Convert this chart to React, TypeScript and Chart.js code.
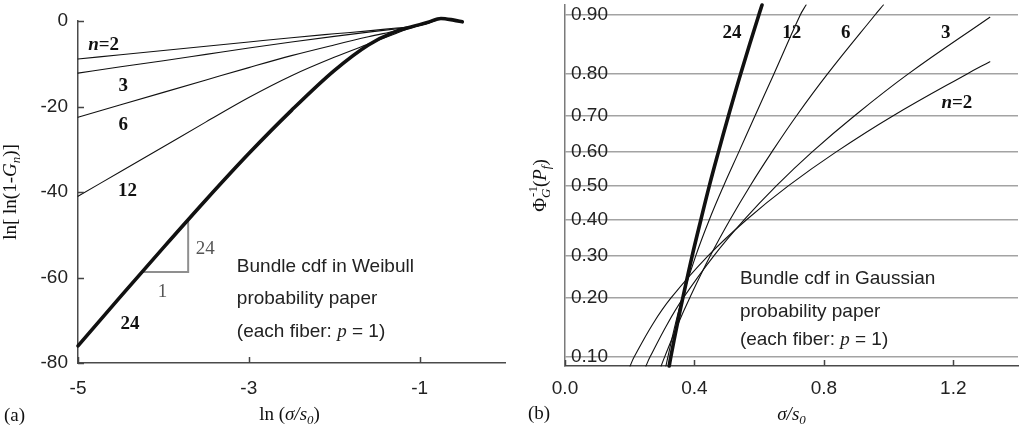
import React, { useEffect, useRef } from 'react';
import { Chart, registerables, LinearScale } from 'chart.js';

// ---------------- data: panel (a) Weibull probability paper ----------------
const A_X = [-5, -4.5, -4, -3.5, -3, -2.5, -2, -1.6, -1.3, -1.1, -0.9, -0.75, -0.6, -0.5];
const A_N2 = [-8.9, -7.9, -6.9, -5.9, -4.9, -3.9, -3.0, -2.3, -1.7, -1.3, -0.5, 0.4, 0.1, -0.3];
const A_N3 = [-12.2, -10.7, -9.3, -7.8, -6.3, -4.9, -3.6, -2.6, -1.9, -1.4, -0.5, 0.7, 0.2, -0.3];
const A_N6 = [-22.5, -19.6, -16.7, -13.8, -10.9, -8.1, -5.6, -3.7, -2.4, -1.5, -0.4, 0.5, 0.3, -0.1];
const A_N12 = [-41.0, -35.2, -29.4, -23.6, -17.9, -12.8, -8.5, -5.4, -3.1, -1.6, -0.4, 0.6, 0.2, -0.2];
const A_N24 = [-76.0, -64.4, -53.0, -41.8, -31.0, -20.9, -11.6, -5.6, -2.6, -1.4, -0.3, 0.6, 0.2, -0.2];
const A_SLOPE_X = [-4.25, -3.71, -3.71];
const A_SLOPE_Y = [-58.7, -58.7, -46.5];
const A_X_TICKS = [-5, -3, -1];
const A_Y_TICKS = [-80, -60, -40, -20, 0];

// ---------------- data: panel (b) Gaussian probability paper ----------------
const B_P2 = [0.0885, 0.10, 0.15, 0.20, 0.30, 0.40, 0.50, 0.60, 0.70, 0.80, 0.824];
const B_S2 = [0.201, 0.214, 0.271, 0.327, 0.442, 0.561, 0.690, 0.837, 1.013, 1.244, 1.313];
const B_P3 = [0.0885, 0.10, 0.15, 0.20, 0.30, 0.40, 0.50, 0.60, 0.70, 0.80, 0.897];
const B_S3 = [0.250, 0.263, 0.316, 0.365, 0.460, 0.554, 0.653, 0.763, 0.894, 1.062, 1.313];
const B_P6 = [0.0885, 0.10, 0.15, 0.20, 0.30, 0.40, 0.50, 0.60, 0.70, 0.80, 0.90, 0.9125];
const B_S6 = [0.297, 0.308, 0.349, 0.385, 0.449, 0.510, 0.572, 0.639, 0.715, 0.812, 0.958, 0.984];
const B_P12 = [0.0885, 0.10, 0.15, 0.20, 0.30, 0.40, 0.50, 0.60, 0.70, 0.80, 0.90, 0.9125];
const B_S12 = [0.312, 0.318, 0.341, 0.362, 0.404, 0.446, 0.490, 0.537, 0.587, 0.646, 0.727, 0.745];
const B_P24 = [0.0885, 0.10, 0.15, 0.20, 0.30, 0.40, 0.50, 0.60, 0.70, 0.80, 0.90, 0.9125];
const B_S24 = [0.322, 0.327, 0.347, 0.364, 0.393, 0.420, 0.446, 0.474, 0.505, 0.543, 0.599, 0.609];
const B_X_TICKS = [0, 0.4, 0.8, 1.2];
const B_P_TICKS = [0.1, 0.2, 0.3, 0.4, 0.5, 0.6, 0.7, 0.8, 0.9];

// ---------------- fonts / styles ----------------
const SANS = '"Liberation Sans", Arial, Helvetica, sans-serif';
const SERIF = '"Liberation Serif", "Times New Roman", Times, serif';
const FS = 19;

// ---------------- probit (inverse normal) scale ----------------
function probit(p: number): number {
  const a = [-3.969683028665376e1, 2.209460984245205e2, -2.759285104469687e2, 1.38357751867269e2, -3.066479806614716e1, 2.506628277459239];
  const b = [-5.447609879822406e1, 1.615858368580409e2, -1.556989798598866e2, 6.680131188771972e1, -1.328068155288572e1];
  const c = [-7.784894002430293e-3, -3.223964580411365e-1, -2.400758277161838, -2.549732539343734, 4.374664141464968, 2.938163982698783];
  const d = [7.784695709041462e-3, 3.224671290700398e-1, 2.445134137142996, 3.754408661907416];
  const pl = 0.02425;
  if (p < pl) {
    const q = Math.sqrt(-2 * Math.log(p));
    return (((((c[0] * q + c[1]) * q + c[2]) * q + c[3]) * q + c[4]) * q + c[5]) / ((((d[0] * q + d[1]) * q + d[2]) * q + d[3]) * q + 1);
  }
  if (p <= 1 - pl) {
    const q = p - 0.5, r = q * q;
    return ((((((a[0] * r + a[1]) * r + a[2]) * r + a[3]) * r + a[4]) * r + a[5]) * q) / (((((b[0] * r + b[1]) * r + b[2]) * r + b[3]) * r + b[4]) * r + 1);
  }
  const q = Math.sqrt(-2 * Math.log(1 - p));
  return -(((((c[0] * q + c[1]) * q + c[2]) * q + c[3]) * q + c[4]) * q + c[5]) / ((((d[0] * q + d[1]) * q + d[2]) * q + d[3]) * q + 1);
}
function normCdf(z: number): number {
  const t = 1 / (1 + 0.2316419 * Math.abs(z));
  const dd = 0.3989423 * Math.exp(-z * z / 2);
  const p = dd * t * (0.3193815 + t * (-0.3565638 + t * (1.781478 + t * (-1.821256 + t * 1.330274))));
  return z > 0 ? 1 - p : p;
}

class ProbitScale extends LinearScale {
  static id = 'probit';
  static defaults = {};
  getPixelForValue(value: any) {
    if (value === null || value === undefined || isNaN(value)) return NaN;
    const lo = probit((this as any).min), hi = probit((this as any).max);
    return (this as any).getPixelForDecimal((probit(value) - lo) / (hi - lo));
  }
  getValueForPixel(pixel: number) {
    const lo = probit((this as any).min), hi = probit((this as any).max);
    return normCdf(lo + (this as any).getDecimalForPixel(pixel) * (hi - lo));
  }
}

Chart.register(...registerables, ProbitScale as any);

// ---------------- rich text helper ----------------
type Seg = { t: string; i?: boolean; b?: boolean; sub?: boolean; sup?: boolean; fam?: string; supOver?: string };
function drawRich(ctx: CanvasRenderingContext2D, segs: Seg[], x: number, y: number,
  o: { size?: number; family: string; color?: string; align?: 'left' | 'center'; rotate?: boolean }) {
  const size = o.size || FS;
  const small = Math.round(size * 0.68);
  const fontFor = (s: Seg) => `${s.i ? 'italic ' : ''}${s.b ? 'bold ' : ''}${s.sub || s.sup ? small : size}px ${s.fam || o.family}`;
  ctx.save();
  ctx.translate(x, y);
  if (o.rotate) ctx.rotate(-Math.PI / 2);
  const widths = segs.map((s) => {
    ctx.font = fontFor(s);
    let w = ctx.measureText(s.t).width;
    if (s.supOver) { ctx.font = `${small}px ${o.family}`; w = Math.max(w, ctx.measureText(s.supOver).width); }
    return w;
  });
  const total = widths.reduce((m, w) => m + w, 0);
  let cx = o.align === 'center' ? -total / 2 : 0;
  ctx.textBaseline = 'middle';
  ctx.textAlign = 'left';
  ctx.fillStyle = o.color || '#111';
  segs.forEach((s, k) => {
    ctx.font = fontFor(s);
    const dy = s.sub ? size * 0.3 : s.sup ? -size * 0.38 : 0;
    ctx.fillText(s.t, cx, dy);
    if (s.supOver) { ctx.font = `${small}px ${o.family}`; ctx.fillText(s.supOver, cx + 1, -size * 0.4); }
    cx += widths[k];
  });
  ctx.restore();
}

function inwardTicks(ctx: CanvasRenderingContext2D, ca: any, xs: any, ys: any, xt: number[], yt: number[]) {
  ctx.save();
  ctx.strokeStyle = '#444';
  ctx.lineWidth = 1.5;
  ctx.beginPath();
  xt.forEach((v) => { const p = Math.round(xs.getPixelForValue(v)) + 0.5; ctx.moveTo(p, ca.bottom); ctx.lineTo(p, ca.bottom - 6); });
  yt.forEach((v) => { const p = Math.round(ys.getPixelForValue(v)) + 0.5; ctx.moveTo(ca.left, p); ctx.lineTo(ca.left + 6, p); });
  ctx.stroke();
  ctx.restore();
}

// label anchors (data coordinates)
const A_LABELS: { x: number; y: number; segs: Seg[] }[] = [
  { x: -4.70, y: -5.6, segs: [{ t: 'n', i: true, b: true }, { t: '=2', b: true }] },
  { x: -4.47, y: -15.2, segs: [{ t: '3', b: true }] },
  { x: -4.47, y: -24.3, segs: [{ t: '6', b: true }] },
  { x: -4.42, y: -39.8, segs: [{ t: '12', b: true }] },
  { x: -4.39, y: -70.9, segs: [{ t: '24', b: true }] },
];
const B_LABELS: { x: number; y: number; segs: Seg[] }[] = [
  { x: 0.516, y: 0.874, segs: [{ t: '24', b: true }] },
  { x: 0.701, y: 0.874, segs: [{ t: '12', b: true }] },
  { x: 0.868, y: 0.874, segs: [{ t: '6', b: true }] },
  { x: 1.177, y: 0.874, segs: [{ t: '3', b: true }] },
  { x: 1.211, y: 0.733, segs: [{ t: 'n', i: true, b: true }, { t: '=2', b: true }] },
];

function lineDs(xs: number[], ys: number[], width: number, color = '#111', smooth: 'monotone' | 'bezier' = 'monotone') {
  return {
    data: xs.map((x, i) => ({ x, y: ys[i] })),
    showLine: true,
    borderColor: color,
    backgroundColor: color,
    borderWidth: width,
    pointRadius: 0,
    cubicInterpolationMode: smooth === 'monotone' ? 'monotone' : 'default',
    tension: smooth === 'monotone' ? 0 : 0.4,
    borderCapStyle: 'round' as const,
    clip: false as any,
  };
}

function tickFont() { return { family: SANS, size: FS }; }
function noPad(s: any) { s.paddingTop = 0; s.paddingBottom = 0; s.paddingLeft = 0; s.paddingRight = 0; }

function configA(): any {
  const overlay = {
    id: 'overlayA',
    afterDraw(chart: any) {
      const { ctx, chartArea: ca, scales } = chart;
      const xs = scales.x, ys = scales.y;
      inwardTicks(ctx, ca, xs, ys, A_X_TICKS, A_Y_TICKS);
      A_LABELS.forEach((l) => drawRich(ctx, l.segs, xs.getPixelForValue(l.x), ys.getPixelForValue(l.y), { family: SERIF, align: 'center' }));
      drawRich(ctx, [{ t: '1' }], xs.getPixelForValue(-4.01), ys.getPixelForValue(-63.4), { family: SERIF, align: 'center', color: '#555' });
      drawRich(ctx, [{ t: '24' }], xs.getPixelForValue(-3.51), ys.getPixelForValue(-53.3), { family: SERIF, align: 'center', color: '#555' });
      const dx = xs.getPixelForValue(-3.14);
      drawRich(ctx, [{ t: 'Bundle cdf in Weibull' }], dx, ys.getPixelForValue(-57.5), { family: SANS, color: '#222' });
      drawRich(ctx, [{ t: 'probability paper' }], dx, ys.getPixelForValue(-65.0), { family: SANS, color: '#222' });
      drawRich(ctx, [{ t: '(each fiber: ' }, { t: 'p', i: true, fam: SERIF }, { t: ' = 1)' }], dx, ys.getPixelForValue(-72.7), { family: SANS, color: '#222' });
      drawRich(ctx, [{ t: 'ln (' }, { t: 'σ/s', i: true }, { t: '0', i: true, sub: true }, { t: ')' }],
        (ca.left + ca.right) / 2 - 2, ca.bottom + 52, { family: SERIF, align: 'center' });
      drawRich(ctx, [{ t: 'ln[ ln(1-' }, { t: 'G', i: true }, { t: 'n', i: true, sub: true }, { t: ')]' }],
        ca.left - 67, (ca.top + ca.bottom) / 2, { family: SERIF, align: 'center', rotate: true });
      drawRich(ctx, [{ t: '(a)' }], 4, ca.bottom + 53, { family: SERIF });
    },
  };
  return {
    type: 'scatter',
    data: {
      datasets: [
        lineDs(A_X, A_N2, 1.1),
        lineDs(A_X, A_N3, 1.1),
        lineDs(A_X, A_N6, 1.1),
        lineDs(A_X, A_N12, 1.1),
        lineDs(A_X, A_N24, 3.6),
        { ...lineDs(A_SLOPE_X, A_SLOPE_Y, 2, '#8f8f8f'), cubicInterpolationMode: 'default', tension: 0, borderCapStyle: 'butt' },
      ],
    },
    options: {
      responsive: false,
      animation: false,
      events: [],
      layout: { padding: { left: 0, top: 21, right: 5, bottom: 0 } },
      plugins: { legend: { display: false }, tooltip: { enabled: false } },
      scales: {
        x: {
          type: 'linear', min: -5, max: 0,
          afterBuildTicks: (s: any) => { s.ticks = A_X_TICKS.map((v) => ({ value: v })); },
          afterFit: (s: any) => { s.height = 68; noPad(s); },
          grid: { drawOnChartArea: false, drawTicks: false, color: 'rgba(0,0,0,0)' },
          border: { display: true, color: '#4a4a4a', width: 1.5 },
          ticks: { font: tickFont(), color: '#222', padding: 14, maxRotation: 0, autoSkip: false, callback: (v: any) => String(v) },
        },
        y: {
          type: 'linear', min: -80, max: 0,
          afterBuildTicks: (s: any) => { s.ticks = A_Y_TICKS.map((v) => ({ value: v })); },
          afterFit: (s: any) => { s.width = 78; noPad(s); },
          grid: { drawOnChartArea: false, drawTicks: false, color: 'rgba(0,0,0,0)' },
          border: { display: true, color: '#4a4a4a', width: 1.5 },
          ticks: { font: tickFont(), color: '#222', padding: 10, autoSkip: false, callback: (v: any) => String(v) },
        },
      },
    },
    plugins: [overlay],
  };
}

function configB(): any {
  const overlay = {
    id: 'overlayB',
    afterDraw(chart: any) {
      const { ctx, chartArea: ca, scales } = chart;
      const xs = scales.x, ys = scales.y;
      inwardTicks(ctx, ca, xs, ys, B_X_TICKS, []);
      B_LABELS.forEach((l) => drawRich(ctx, l.segs, xs.getPixelForValue(l.x), ys.getPixelForValue(l.y), { family: SERIF, align: 'center' }));
      const dx = xs.getPixelForValue(0.5405);
      drawRich(ctx, [{ t: 'Bundle cdf in Gaussian' }], dx, ys.getPixelForValue(0.243), { family: SANS, color: '#222' });
      drawRich(ctx, [{ t: 'probability paper' }], dx, ys.getPixelForValue(0.172), { family: SANS, color: '#222' });
      drawRich(ctx, [{ t: '(each fiber: ' }, { t: 'p', i: true, fam: SERIF }, { t: ' = 1)' }], dx, ys.getPixelForValue(0.124), { family: SANS, color: '#222' });
      drawRich(ctx, [{ t: 'σ/s', i: true }, { t: '0', i: true, sub: true }],
        (ca.left + ca.right) / 2, ca.bottom + 49, { family: SERIF, align: 'center' });
      drawRich(ctx, [{ t: 'Φ' }, { t: 'G', i: true, sub: true, supOver: '-1' }, { t: '(' }, { t: 'P', i: true }, { t: 'f', i: true, sub: true }, { t: ')' }],
        ca.left - 24, (ca.top + ca.bottom) / 2, { family: SERIF, align: 'center', rotate: true });
      drawRich(ctx, [{ t: '(b)' }], 18, ca.bottom + 48, { family: SERIF });
    },
  };
  return {
    type: 'scatter',
    data: {
      datasets: [
        lineDs(B_S2, B_P2, 1.1, '#111', 'bezier'),
        lineDs(B_S3, B_P3, 1.1, '#111', 'bezier'),
        lineDs(B_S6, B_P6, 1.1, '#111', 'bezier'),
        lineDs(B_S12, B_P12, 1.1, '#111', 'bezier'),
        lineDs(B_S24, B_P24, 3.6, '#111', 'bezier'),
      ],
    },
    options: {
      responsive: false,
      animation: false,
      events: [],
      layout: { padding: { left: 0, top: 5, right: 2, bottom: 0 } },
      plugins: { legend: { display: false }, tooltip: { enabled: false } },
      scales: {
        x: {
          type: 'linear', min: 0, max: 1.4,
          afterBuildTicks: (s: any) => { s.ticks = B_X_TICKS.map((v) => ({ value: v })); },
          afterFit: (s: any) => { s.height = 65; noPad(s); },
          grid: { drawOnChartArea: false, drawTicks: false, color: 'rgba(0,0,0,0)' },
          border: { display: true, color: '#4a4a4a', width: 1.5 },
          ticks: { font: tickFont(), color: '#222', padding: 11, maxRotation: 0, autoSkip: false, callback: (v: any) => Number(v).toFixed(1) },
        },
        y: {
          type: 'probit', min: 0.0885, max: 0.9125, bounds: 'data',
          afterBuildTicks: (s: any) => { s.ticks = B_P_TICKS.map((v) => ({ value: v })); },
          afterFit: (s: any) => { s.width = 55; noPad(s); },
          grid: { drawOnChartArea: true, drawTicks: false, color: '#a3a3a3', lineWidth: 1.5 },
          border: { display: true, color: '#7a7a7a', width: 1.5 },
          ticks: { mirror: true, font: tickFont(), color: '#222', padding: 6, autoSkip: false, callback: (v: any) => Number(v).toFixed(2) },
        },
      },
    },
    plugins: [overlay],
  };
}

export default function App() {
  const refA = useRef<HTMLCanvasElement | null>(null);
  const refB = useRef<HTMLCanvasElement | null>(null);
  useEffect(() => {
    const a = new Chart(refA.current as HTMLCanvasElement, configA());
    const b = new Chart(refB.current as HTMLCanvasElement, configB());
    return () => { a.destroy(); b.destroy(); };
  }, []);
  return (
    <div style={{ position: 'absolute', left: 0, top: 0, width: 1020, height: 431, background: '#fff', overflow: 'hidden' }}>
      <canvas ref={refA} width={510} height={431} style={{ position: 'absolute', left: 0, top: 0, width: 510, height: 431 }} />
      <canvas ref={refB} width={510} height={431} style={{ position: 'absolute', left: 510, top: 0, width: 510, height: 431 }} />
    </div>
  );
}
